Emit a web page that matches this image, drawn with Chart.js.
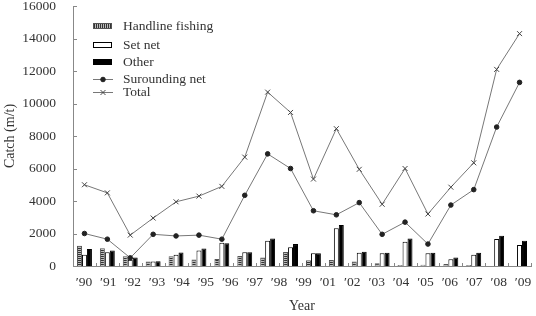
<!DOCTYPE html>
<html>
<head>
<meta charset="utf-8">
<script src="https://cdn.jsdelivr.net/npm/chart.js@4.4.1/dist/chart.umd.min.js"></script>
<style>
  html, body { margin: 0; padding: 0; background: #fff; }
  #wrap { width: 536px; height: 316px; }
</style>
</head>
<body>
<div id="wrap"><canvas id="chart"></canvas></div>
<script>
// 数据
const categories = ['1990','1991','1992','1993','1994','1995','1996','1997','1998','1999',
                    '2000','2001','2002','2003','2004','2005','2006','2007','2008','2009'];
// 原图横轴只有 19 个标签（缺 '00）
const tickLabels = ['′90','′91','′92','′93','′94','′95','′96','′97','′98','′99',
                    '′01','′02','′03','′04','′05','′06','′07','′08','′09'];
const handline    = [1250,1100,600,270,600,400,430,620,520,860,350,370,270,170,60,80,120,60,0,0];
const setNet      = [700,850,380,280,700,960,1430,850,1560,1150,780,2330,820,790,1500,780,420,700,1660,1290];
const other       = [1050,950,530,300,830,1070,1400,850,1700,1350,790,2520,880,820,1700,820,530,820,1860,1560];
const surrounding = [2000,1650,500,1950,1850,1900,1650,4350,6900,6000,3400,3150,3900,1950,2700,1350,3750,4700,8550,11300];
const total       = [5000,4500,1900,2950,3950,4300,4900,6700,10700,9450,5350,8450,5950,3800,6000,3200,4850,6350,12100,14300];

const FONT = '"Liberation Serif", "Times New Roman", serif';
const TEXT = '#333';
const AXIS = '#888';

const ctx = document.getElementById('chart').getContext('2d');

// 条纹填充
function makeStripes(vertical) {
    const c = document.createElement('canvas');
    c.width = 2; c.height = 2;
    const g = c.getContext('2d');
    g.fillStyle = '#bbb';
    g.fillRect(0, 0, 2, 2);
    g.fillStyle = '#333';
    if (vertical) g.fillRect(0, 0, 1, 2); else g.fillRect(0, 0, 2, 1);
    return ctx.createPattern(c, 'repeat');
}
const barStripes = makeStripes(false);
const legendStripes = makeStripes(true);

// 图例（左上角，手工画）
const legendPlugin = {
    id: 'cornerLegend',
    afterDraw(chart) {
        const c = chart.ctx;
        const rows = [26, 45, 62, 79, 92];
        c.save();
        c.font = '13.5px ' + FONT;
        c.textBaseline = 'middle';
        chart.data.datasets.forEach((ds, i) => {
            const y = rows[i];
            if (ds.type === 'bar') {
                c.fillStyle = i === 0 ? legendStripes : ds.backgroundColor;
                c.fillRect(93, y - 3, 19, 6);
                c.strokeStyle = ds.borderColor;
                c.lineWidth = 1;
                c.strokeRect(93.5, y - 2.5, 18, 5);
            } else {
                c.strokeStyle = ds.borderColor;
                c.lineWidth = 1;
                c.beginPath();
                c.moveTo(93, y + 0.5);
                c.lineTo(113, y + 0.5);
                c.stroke();
                c.fillStyle = ds.pointBackgroundColor;
                c.strokeStyle = ds.pointBorderColor;
                Chart.helpers.drawPoint(c, {
                    pointStyle: ds.pointStyle, radius: ds.pointRadius,
                    rotation: 0, borderWidth: ds.pointBorderWidth
                }, 103, y + 0.5);
            }
            c.fillStyle = TEXT;
            c.fillText(ds.label, 123, y);
        });
        c.restore();
    }
};

// 向内的小刻度
const innerTicks = {
    id: 'innerTicks',
    afterDraw(chart) {
        const c = chart.ctx;
        const area = chart.chartArea;
        const ys = chart.scales.y;
        c.save();
        c.strokeStyle = AXIS;
        c.lineWidth = 1;
        c.beginPath();
        ys.ticks.forEach(t => {
            const py = Math.round(ys.getPixelForValue(t.value)) + 0.5;
            c.moveTo(area.left, py);
            c.lineTo(area.left + 4, py);
        });
        const step = (area.right - area.left) / categories.length;
        for (let i = 0; i <= categories.length; i++) {
            const px = Math.round(area.left + i * step) + 0.5;
            c.moveTo(px, area.bottom);
            c.lineTo(px, area.bottom - 3);
        }
        c.stroke();
        c.restore();
    }
};

new Chart(ctx, {
    data: {
        labels: categories,
        datasets: [
            { type: 'bar', label: 'Handline fishing', data: handline,
              backgroundColor: barStripes, borderColor: '#555', borderWidth: 1, order: 2 },
            { type: 'bar', label: 'Set net', data: setNet,
              backgroundColor: '#fff', borderColor: '#000', borderWidth: 1, order: 2 },
            { type: 'bar', label: 'Other', data: other,
              backgroundColor: '#000', borderColor: '#000', borderWidth: 1, order: 2 },
            { type: 'line', label: 'Surounding net', data: surrounding,
              borderColor: '#777', borderWidth: 1, pointStyle: 'circle', pointRadius: 2.3,
              pointBackgroundColor: '#222', pointBorderColor: '#222', pointBorderWidth: 1,
              tension: 0, order: 0 },
            { type: 'line', label: 'Total', data: total,
              borderColor: '#777', borderWidth: 1, pointStyle: 'crossRot', pointRadius: 3.5,
              pointBackgroundColor: '#444', pointBorderColor: '#444', pointBorderWidth: 1,
              tension: 0, order: 0 }
        ]
    },
    options: {
        responsive: true,
        maintainAspectRatio: false,
        animation: false,
        layout: { padding: { top: 6, right: 1, left: 0, bottom: 0 } },
        datasets: {
            bar: { barPercentage: 1, categoryPercentage: 0.65 }
        },
        plugins: {
            legend: { display: false },
            tooltip: { enabled: false }
        },
        scales: {
            x: {
                type: 'category',
                offset: true,
                weight: 0,
                grid: { display: false },
                border: { display: true, color: AXIS },
                ticks: { display: false },
                afterFit(s) { s.height = 0; }
            },
            xl: {
                type: 'linear',
                position: 'bottom',
                weight: 1,
                min: -0.447,
                max: 18.325,
                grid: { display: false },
                border: { display: false },
                ticks: {
                    padding: 0,
                    autoSkip: false,
                    maxRotation: 0,
                    color: TEXT,
                    font: { family: FONT, size: 13.5 },
                    callback: v => tickLabels[v] ?? ''
                },
                afterBuildTicks(s) {
                    s.ticks = tickLabels.map((_, i) => ({ value: i }));
                },
                title: {
                    display: true, text: 'Year', color: TEXT,
                    font: { family: FONT, size: 14 },
                    padding: { top: 0, bottom: 1 }
                },
                afterFit(s) { s.height = 50; }
            },
            y: {
                min: 0,
                max: 16000,
                grid: { display: false },
                border: { display: true, color: AXIS },
                ticks: {
                    stepSize: 2000,
                    padding: 9,
                    color: TEXT,
                    font: { family: FONT, size: 13.5 },
                    callback: v => String(v)
                },
                title: {
                    display: true, text: 'Catch (m/t)', color: TEXT,
                    font: { family: FONT, size: 14 },
                    padding: { top: 2, bottom: 0 }
                },
                afterFit(s) {
                    s.width = 73;
                    s.paddingTop = 0;
                    s.paddingBottom = 0;
                }
            }
        }
    },
    plugins: [legendPlugin, innerTicks]
});
</script>
</body>
</html>
